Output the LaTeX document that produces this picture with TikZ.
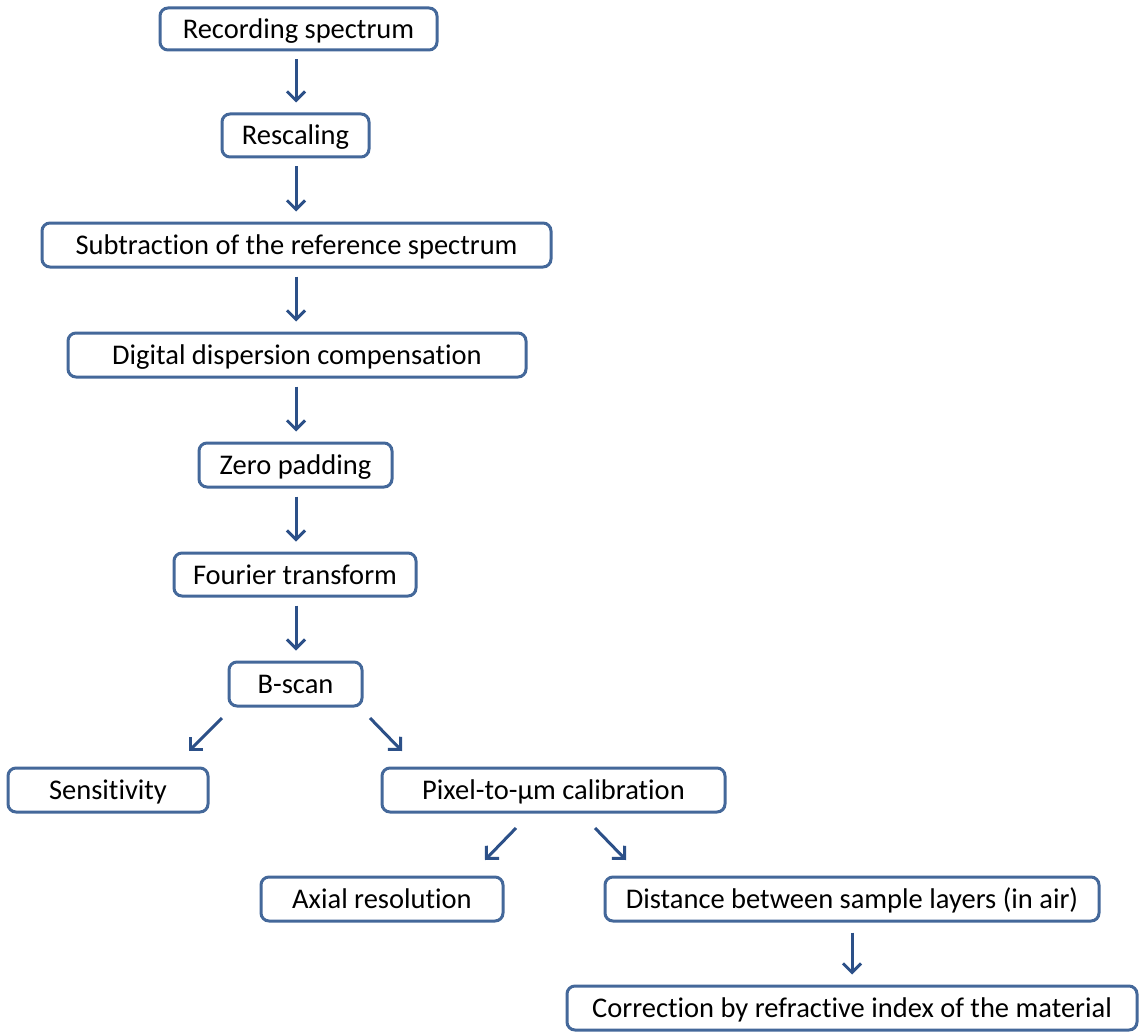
\documentclass[tikz,border=0pt]{standalone}
\usepackage{fontspec}
\setmainfont{Carlito}[Ligatures={NoCommon,NoRare,NoContextual}]
\usetikzlibrary{arrows.meta}
\definecolor{boxblue}{RGB}{68,104,154}
\definecolor{arrowblue}{RGB}{44,80,136}
\begin{document}
\begin{tikzpicture}[x=1pt,y=-1pt,
  stepbox/.style={draw=boxblue, line width=3pt, rounded corners=8pt,
    fill=white, inner sep=0pt, text height=20pt, text depth=1pt,
    font=\fontsize{28.5}{32}\selectfont},
  flow/.style={draw=arrowblue, line width=3pt,
    -{Straight Barb[length=9pt,width=18pt,line width=3pt]}}]
\useasboundingbox[fill=white] (0,0) rectangle (1145,1035);

% processing chain
\node[stepbox, minimum width=277pt, minimum height=42pt] (rec) at (298.5,29) {Recording spectrum};
\node[stepbox, minimum width=147pt, minimum height=43pt] (resc) at (295.5,135.5) {Rescaling};
\node[stepbox, minimum width=509pt, minimum height=44pt] (sub) at (296.5,245) {Subtraction of the reference spectrum};
\node[stepbox, minimum width=458pt, minimum height=44pt] (disp) at (297,355) {Digital dispersion compensation};
\node[stepbox, minimum width=193pt, minimum height=44pt] (zero) at (295.5,465) {Zero padding};
\node[stepbox, minimum width=242pt, minimum height=43pt] (fft) at (295,574.5) {Fourier transform};
\node[stepbox, minimum width=133pt, minimum height=44pt] (bscan) at (295.5,684) {B-scan};

% outcomes
\node[stepbox, minimum width=200pt, minimum height=44pt] (sens) at (108,790) {Sensitivity};
\node[stepbox, minimum width=343pt, minimum height=44pt] (calib) at (553.5,790) {Pixel-to-µm calibration};
\node[stepbox, minimum width=242pt, minimum height=44pt] (axial) at (382,899) {Axial resolution};
\node[stepbox, minimum width=494pt, minimum height=44pt] (dist) at (852,899) {Distance between sample layers (in air)};
\node[stepbox, minimum width=570pt, minimum height=44pt] (corr) at (852,1008) {Correction by refractive index of the material};

% vertical connectors
\foreach \a/\b in {rec/resc, resc/sub, sub/disp, disp/zero, zero/fft, fft/bscan}
  \draw[flow, shorten <=8pt, shorten >=10pt] (\a.south -| 296,0) -- (\b.north -| 296,0);
\draw[flow, shorten <=10pt, shorten >=10pt] (dist.south) -- (corr.north);

% branching connectors
\coordinate (bl0) at (222,718); \coordinate (bl1) at (189,751);
\coordinate (br0) at (370,718); \coordinate (br1) at (402,751);
\coordinate (cl0) at (516,828); \coordinate (cl1) at (485,860);
\coordinate (cr0) at (595,828); \coordinate (cr1) at (626,860);
\draw[flow] (bl0) -- (bl1);
\draw[flow] (br0) -- (br1);
\draw[flow] (cl0) -- (cl1);
\draw[flow] (cr0) -- (cr1);
\end{tikzpicture}
\end{document}
